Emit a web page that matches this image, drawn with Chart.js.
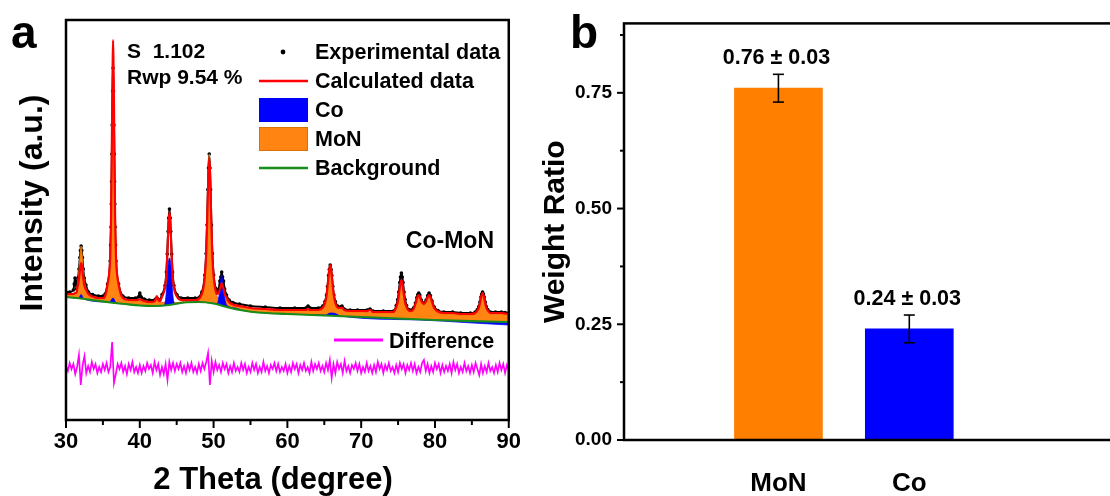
<!DOCTYPE html>
<html>
<head>
<meta charset="utf-8">
<script src="https://cdn.jsdelivr.net/npm/chart.js@4.4.1/dist/chart.umd.min.js"></script>
<style>
  html, body { margin: 0; padding: 0; background: #fff; }
  #wrap { position: relative; width: 1110px; height: 496px; overflow: hidden; background: #fff; }
  #pa { position: absolute; left: 0; top: 0; }
  #pb { position: absolute; left: 530px; top: 0; }
</style>
</head>
<body>
<div id="wrap">
  <canvas id="pa" width="530" height="496"></canvas>
  <canvas id="pb" width="600" height="496"></canvas>
</div>
<script>
// ---------- (a) Rietveld refinement of Co-MoN ----------
// 2θ grid shared by the observed, calculated and MoN-phase profiles
const theta = [
  30.0,30.5,31.0,31.12,31.22,31.32,31.45,31.55,31.63,31.76,31.88,31.96,32.05,32.14,32.22,32.34,32.47,32.7,33.05,33.6,
  34.4,35.0,35.3,35.63,35.98,36.04,36.1,36.14,36.18,36.22,36.26,36.32,36.38,36.44,36.5,36.54,36.58,36.62,36.66,36.72,36.78,37.13,37.7,
  38.5,39.4,39.8,40.0,40.2,40.6,41.3,42.0,42.15,42.3,42.45,42.7,43.02,
  43.42,43.6,43.72,43.84,43.92,44.02,44.12,44.2,44.32,44.44,44.62,45.02,45.6,46.5,47.5,
  48.41,48.81,48.99,49.11,49.23,49.31,49.41,49.51,49.59,49.71,49.83,50.01,50.25,50.45,50.7,50.85,50.98,51.1,51.22,51.35,51.5,51.75,52.1,52.6,
  53.5,55,57,59,61,62.5,62.8,63.1,64.2,
  64.8,65.1,65.3,65.44,65.58,65.68,65.8,65.92,66.02,66.16,66.3,66.5,66.8,67.15,67.4,67.7,68.5,69.5,70.8,71.2,71.6,73,74.4,
  74.75,74.95,75.09,75.23,75.33,75.45,75.57,75.67,75.81,75.95,76.15,76.45,76.8,
  77.1,77.35,77.55,77.68,77.8,77.95,78.15,78.5,78.8,79.02,79.2,79.38,79.6,79.9,80.4,81.2,82.4,83.5,84.8,85.45,
  85.75,85.95,86.09,86.23,86.33,86.45,86.57,86.67,86.81,86.95,87.15,87.5,88.2,89.0,89.5,90.0
];
const observed = [
  128,128,130,136,142,137,131,139,142,151,162.5,169.5,174,169.5,162.5,151,142,135,128,125.5,
  124,124,126,136,159,175,193,216,238.5,266,295,329,352,329,295,266,238.5,216,193,175,159,136,124,
  122,122,123,127,123,121,120,120,121,122,121,120,125.5,
  134.5,148,166,188.5,202,211,202,188.5,166,148,134.5,125.5,122,122,122,
  128,145,166.5,195,230.5,252,266,252,230.5,195,166.5,145,132,128,131,139,143,148,143,139,131,125,120,117.5,
  116,114,113,112,112,112,114,112,112,
  114,118.5,125,133.5,144.5,150.5,155,150.5,144.5,133.5,125,118.5,114,113,114,111,110,110,110,111,109,109,109,
  114.5,120.5,128,137.5,143,147,143,137.5,128,120.5,114.5,110.5,110,
  112,117,122.5,125.5,127,125,120,117,120,124.5,127,124.5,119,113,109.5,108,108,107,107,108,
  110.5,113.5,118,123,126,128,126,123,118,113.5,110.5,108,108,108,107.5,107
];
const calculated = [
  126,126,126,126.5,127,127,128,133,135,141.5,149,154,157,154,149,141.5,135,130.5,126,123.5,
  122,122,124,136,161.5,179.5,200,226,251.5,282,316,354,380,354,316,282,251.5,226,200,179.5,161.5,136,122,
  120,120,120,121,120,119,118,118.5,121,124,121,118.5,123.5,
  132.5,145.5,163.5,186,199,208,199,186,163.5,145.5,132.5,123.5,120,120,120,
  126,143,164,192,227,248,262,248,227,192,164,143,130,126,126.5,131.5,134,137,134,131.5,126.5,122.5,118,115.5,
  114,112,111,110,110,110,111,110,110,
  112.5,117,124,133,144,150.5,155,150.5,144,133,124,117,112.5,112,112.5,110,109,109,109,110,108,108,108,
  113,117.5,124,132,137,140,137,132,124,117.5,113,109.5,109,
  111,116,121,124,125,123.5,119,116,119,123,125,123,118,112,108.5,107,107,106,106,107,
  109.5,112.5,117,122,125,127,125,122,117,112.5,109.5,107,107,107,106.5,106
];
const monPhase = [
  125,125,125,125.5,126,126,127,137,140,149.5,162,169,174,169,162,149.5,140,132.5,125,122.5,
  121,121,123,134.5,159.5,177,197,222,247,277,309.5,347,372,347,309.5,277,247,222,197,177,159.5,134.5,120.5,
  119,119,119,119,118.5,118,117,117,119.5,122,119.5,117,117.5,
  118,119.5,121,123,124,125,124,123,121,119.5,118,117.5,118,119,119,
  125,143,164.5,193.5,230,251.5,266,251.5,230,193.5,164.5,143,129,124,122,123,123.5,124,123.5,123,122,120,117,115,
  113.5,111.5,110.5,109.5,109.5,109.5,110,109.5,109.5,
  111.5,116,123,132,143,149.5,154,149.5,143,132,123,116,111.5,110.5,110.5,108.5,108,108,107.5,108,107,107,107,
  112,116.5,123,131,136,139,136,131,123,116.5,112,108.5,108,
  110,115,120,123,124,122.5,118,115,118,122,124,122,117,111,107.5,106,106,105,105,106,
  108.5,111.5,116,121,124,126,124,121,116,111.5,108.5,106,106,106,105.5,105
];

// Co phase contribution
const coTheta = [30,31.7,32.05,32.4,35.9,36.38,36.8,38,40,42,43.3,43.6,43.72,43.84,43.92,44.02,44.12,44.2,44.32,44.44,44.7,
  46,48,50.5,50.75,50.9,51.0,51.1,51.2,51.35,51.55,51.8,53,54,56,60,65.2,65.8,66.5,67.2,78.0,84.0,90.0];
const coPhase = [123,121.8,125.5,121,118,122,117,116,114.5,114,114.5,128,142,155,160,162,160,155,142,128,116,
  117.5,118,116.5,125,135,141,145,141,130,120,114.5,112,109.5,107.5,106,105,107,106.5,104,100,97.5,95];

// refined background
const bgTheta = [30,32,34,36,38,40,42,44,46,48,50,52,54,56,60,65,70,75,80,85,90];
const background = [123,121.5,119.5,117.5,116,114.5,114,115,117.5,118,116.5,112.5,109.5,107.5,106,104.5,103,101.5,100,98.8,98];

// difference curve (obs - calc), sampled every 0.25° from 30°
const diffStart = 30, diffStep = 0.25, diffOffset = 52;
const difference = [
  2,-3,5,-1,4,-6,1,13,-17,3,12,-5,2,-4,6,-1,4,-5,1,-4,
  4,-2,5,-4,1,26,-15,-6,4,-1,5,-4,2,-6,4,-2,6,-4,1,-5,
  3,-5,2,-3,5,-1,3,-5,6,-2,4,-7,1,-6,4,-12,6,-2,5,-3,
  4,-1,5,-4,2,-5,4,-2,5,-4,1,-5,4,-3,5,-1,6,15,-17,7,
  -4,6,-2,3,-4,5,-1,4,-5,2,-4,5,-3,1,-4,5,-2,4,-5,1,
  -4,5,-2,4,-5,1,-4,6,-3,2,-5,3,-1,5,-3,4,-4,1,-3,4,
  -5,2,-4,5,-1,4,-5,3,-2,5,-3,1,-5,6,-3,4,-1,5,-3,2,
  -4,5,-2,8,-10,4,-5,6,-1,4,-5,7,-3,2,-5,3,-1,5,-3,4,
  -5,1,-4,5,-3,2,-5,3,-4,6,-1,4,-5,3,-2,5,-3,1,-5,3,
  -4,5,-1,4,-5,3,-2,5,-3,4,-5,1,-4,5,8,-3,4,-5,2,-4,
  5,-1,4,-5,3,-4,2,-3,4,-5,6,-2,4,-5,1,-4,5,-3,2,-5,
  3,-4,5,-1,-7,4,-5,2,-4,5,-3,1,-5,3,-4,5,-2,4,-5,3,
  -2
];

const xTicksA = [30, 40, 50, 60, 70, 80, 90];
const xMinorA = [35, 45, 55, 65, 75, 85];
const legendA = ['Experimental data', 'Calculated data', 'Co', 'MoN', 'Background'];
const fitStats = ['S  1.102', 'Rwp 9.54 %'];

// ---------- (b) phase weight ratio ----------
const phases = ['MoN', 'Co'];
const weightRatio = [0.76, 0.24];
const ratioError = [0.03, 0.03];
const yTicksB = [0, 0.25, 0.5, 0.75];
const yMinorB = [0.125, 0.375, 0.625, 0.875];

// ---------- styling ----------
const FONT = "'Liberation Sans', Arial, Helvetica, sans-serif";
Chart.defaults.font.family = FONT;
Chart.defaults.color = '#000';
Chart.defaults.animation = false;

const RED = '#ff0000', GREEN = '#1a8c1a', BLUE = '#0000ff', ORANGE = '#ff8412', MAGENTA = '#ff00ff';
const BAR_COLORS = ['#ff8000', '#0000ff'];

const pts = (xs, ys) => xs.map((x, i) => ({ x, y: ys[i] }));
const diffPts = difference.map((d, i) => ({ x: diffStart + i * diffStep, y: diffOffset + d }));

function seg(ctx, x1, y1, x2, y2) {
  ctx.beginPath(); ctx.moveTo(x1, y1); ctx.lineTo(x2, y2); ctx.stroke();
}

const panelAOverlay = {
  id: 'panelAOverlay',
  afterDraw(chart) {
    const { ctx, chartArea: a, scales: { x } } = chart;
    ctx.save();
    ctx.strokeStyle = '#000';
    ctx.lineWidth = 2.5;
    ctx.strokeRect(a.left, a.top, a.right - a.left, a.bottom - a.top);
    ctx.lineWidth = 2;
    xTicksA.forEach(v => { const p = x.getPixelForValue(v); seg(ctx, p, a.bottom, p, a.bottom + 8); });
    xMinorA.forEach(v => { const p = x.getPixelForValue(v); seg(ctx, p, a.bottom, p, a.bottom + 5); });

    ctx.fillStyle = '#000';
    ctx.textBaseline = 'alphabetic';
    ctx.textAlign = 'left';
    // panel letter
    ctx.font = `bold 46px ${FONT}`;
    ctx.fillText('a', 11, 48);
    // fit statistics
    ctx.font = `bold 21px ${FONT}`;
    ctx.fillText(fitStats[0], 127, 58);
    ctx.fillText(fitStats[1], 127, 84);
    // legend
    const mx0 = 259, mx1 = 308, tx = 315;
    ctx.font = `bold 21.5px ${FONT}`;
    ctx.beginPath(); ctx.arc(283, 52, 2.4, 0, Math.PI * 2); ctx.fill();
    ctx.fillText(legendA[0], tx, 59);
    ctx.strokeStyle = RED; ctx.lineWidth = 2.5; seg(ctx, mx0, 81, mx1, 81);
    ctx.fillText(legendA[1], tx, 88);
    ctx.fillStyle = BLUE; ctx.fillRect(mx0, 98, mx1 - mx0, 24);
    ctx.fillStyle = '#000'; ctx.fillText(legendA[2], tx, 117);
    ctx.fillStyle = ORANGE; ctx.fillRect(mx0, 127, mx1 - mx0, 24);
    ctx.strokeStyle = '#d9700a'; ctx.lineWidth = 1; ctx.strokeRect(mx0 + 0.5, 127.5, mx1 - mx0 - 1, 23);
    ctx.fillStyle = '#000'; ctx.fillText(legendA[3], tx, 146);
    ctx.strokeStyle = GREEN; ctx.lineWidth = 2.5; seg(ctx, mx0, 168, mx1, 168);
    ctx.fillText(legendA[4], tx, 175);
    // sample name
    ctx.textAlign = 'right';
    ctx.font = `bold 23px ${FONT}`;
    ctx.fillText('Co-MoN', 494, 248);
    // difference legend
    ctx.textAlign = 'left';
    ctx.font = `bold 21.5px ${FONT}`;
    ctx.strokeStyle = MAGENTA; ctx.lineWidth = 3; seg(ctx, 334, 340, 383, 340);
    ctx.fillText('Difference', 389, 348);
    // axis titles
    ctx.textAlign = 'center';
    ctx.textBaseline = 'middle';
    ctx.font = `bold 31px ${FONT}`;
    ctx.fillText('2 Theta (degree)', 273, 480);
    ctx.font = `bold 32px ${FONT}`;
    ctx.translate(33, 203);
    ctx.rotate(-Math.PI / 2);
    ctx.fillText('Intensity (a.u.)', 0, 0);
    ctx.restore();
  }
};

new Chart(document.getElementById('pa'), {
  type: 'line',
  data: {
    datasets: [
      { label: 'Calculated data', data: pts(theta, calculated), borderColor: RED, borderWidth: 2.2,
        pointRadius: 0, fill: false, cubicInterpolationMode: 'monotone' },
      { label: 'Background', data: pts(bgTheta, background), borderColor: GREEN, borderWidth: 2.2,
        pointRadius: 0, fill: false, cubicInterpolationMode: 'monotone' },
      { label: 'Co', data: pts(coTheta, coPhase), borderColor: BLUE, borderWidth: 0.8, backgroundColor: BLUE,
        pointRadius: 0, fill: 1, cubicInterpolationMode: 'monotone' },
      { label: 'MoN', data: pts(theta, monPhase), borderColor: '#e87400', borderWidth: 1, backgroundColor: ORANGE,
        pointRadius: 0, fill: 1, cubicInterpolationMode: 'monotone' },
      { label: 'Experimental data', data: pts(theta, observed), borderColor: '#000', borderWidth: 2,
        pointRadius: 1.8, pointBackgroundColor: '#000', pointBorderWidth: 0, fill: false,
        cubicInterpolationMode: 'monotone' },
      { label: 'Difference', data: diffPts, borderColor: MAGENTA, borderWidth: 1.7, pointRadius: 0,
        fill: false, tension: 0 }
    ]
  },
  options: {
    responsive: false, animation: false, events: [],
    layout: { padding: { left: 66, right: 21, top: 20, bottom: 0 } },
    plugins: { legend: { display: false }, tooltip: { enabled: false } },
    scales: {
      x: {
        type: 'linear', min: 30, max: 90,
        afterBuildTicks: s => { s.ticks = xTicksA.map(v => ({ value: v })); },
        afterFit: s => { s.height = 76; },
        grid: { display: false, drawTicks: false }, border: { display: false },
        ticks: { font: { size: 22, weight: 'bold' }, padding: 9, maxRotation: 0, autoSkip: false }
      },
      y: { display: false, min: 0, max: 400 }
    }
  },
  plugins: [panelAOverlay]
});

const panelBOverlay = {
  id: 'panelBOverlay',
  afterDraw(chart) {
    const { ctx, chartArea: a, scales: { y } } = chart;
    const meta = chart.getDatasetMeta(0);
    ctx.save();
    ctx.strokeStyle = '#000';
    ctx.lineWidth = 2.5;
    ctx.strokeRect(a.left, a.top, a.right - a.left, a.bottom - a.top);
    ctx.lineWidth = 2;
    yTicksB.forEach(v => { const p = y.getPixelForValue(v); seg(ctx, a.left - 7, p, a.left, p); });
    yMinorB.forEach(v => { const p = y.getPixelForValue(v); seg(ctx, a.left - 4, p, a.left, p); });

    // error bars and value labels
    ctx.fillStyle = '#000';
    ctx.font = `bold 21.5px ${FONT}`;
    ctx.textAlign = 'center';
    ctx.textBaseline = 'alphabetic';
    weightRatio.forEach((v, i) => {
      const bx = meta.data[i].x;
      const yt = y.getPixelForValue(v + ratioError[i]);
      const yb = y.getPixelForValue(v - ratioError[i]);
      ctx.lineWidth = 1.6;
      seg(ctx, bx, yt, bx, yb);
      seg(ctx, bx - 5.5, yt, bx + 5.5, yt);
      seg(ctx, bx - 5.5, yb, bx + 5.5, yb);
      ctx.fillText(`${v.toFixed(2)} \u00b1 ${ratioError[i].toFixed(2)}`, bx - 2, yt - 10);
    });

    // panel letter
    ctx.textAlign = 'left';
    ctx.font = `bold 46px ${FONT}`;
    ctx.fillText('b', 40, 48);
    // y title
    ctx.textAlign = 'center';
    ctx.textBaseline = 'middle';
    ctx.font = `bold 30px ${FONT}`;
    ctx.translate(26, (a.top + a.bottom) / 2);
    ctx.rotate(-Math.PI / 2);
    ctx.fillText('Weight Ratio', 0, 0);
    ctx.restore();
  }
};

new Chart(document.getElementById('pb'), {
  type: 'bar',
  data: {
    datasets: [{
      label: 'Weight Ratio',
      data: phases.map((p, i) => ({ x: i + 1, y: weightRatio[i] })),
      backgroundColor: BAR_COLORS, borderWidth: 0, barThickness: 88
    }]
  },
  options: {
    responsive: false, animation: false, events: [],
    layout: { padding: { left: 0, right: 10, top: 20, bottom: 0 } },
    plugins: { legend: { display: false }, tooltip: { enabled: false } },
    scales: {
      x: {
        type: 'linear', min: -0.18, max: 3.61, offset: false,
        afterBuildTicks: s => { s.ticks = phases.map((p, i) => ({ value: i + 1 })); },
        afterFit: s => { s.height = 56; },
        grid: { display: false, drawTicks: false, offset: false }, border: { display: false },
        ticks: { callback: v => phases[v - 1], font: { size: 26, weight: 'bold' }, padding: 28,
                 autoSkip: false, maxRotation: 0 }
      },
      y: {
        min: 0, max: 0.9,
        afterBuildTicks: s => { s.ticks = yTicksB.map(v => ({ value: v })); },
        afterFit: s => { s.width = 94; },
        grid: { display: false, drawTicks: false }, border: { display: false },
        ticks: { callback: v => v.toFixed(2), font: { size: 19, weight: 'bold' }, padding: 12 }
      }
    }
  },
  plugins: [panelBOverlay]
});
</script>
</body>
</html>
